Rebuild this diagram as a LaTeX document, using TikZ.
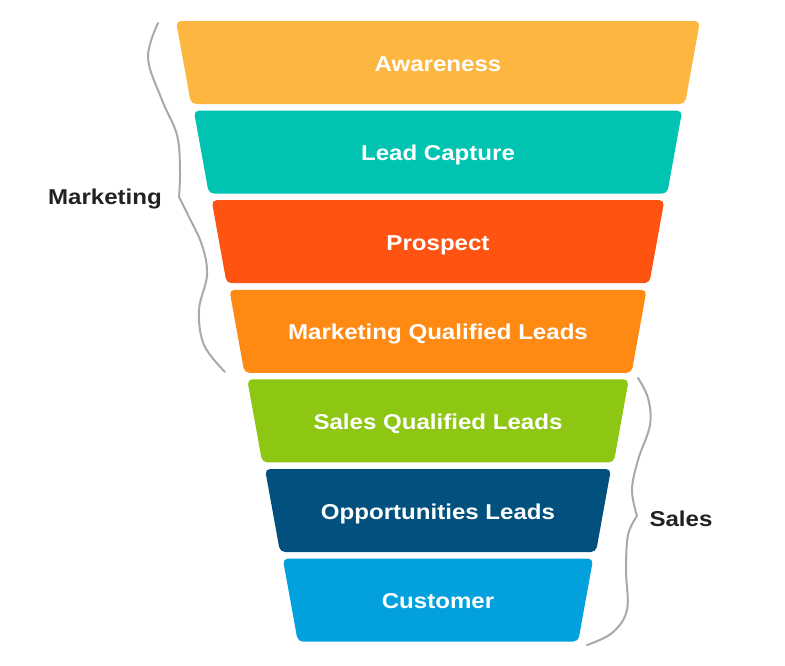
\documentclass[tikz,border=0pt]{standalone}
\usepackage{fontspec}
\setmainfont{Liberation Sans}[FakeStretch=1.12]
\definecolor{cAware}{HTML}{FDB640}
\definecolor{cLead}{HTML}{00C4B1}
\definecolor{cProsp}{HTML}{FF5311}
\definecolor{cMql}{HTML}{FF8A13}
\definecolor{cSql}{HTML}{8DC713}
\definecolor{cOpp}{HTML}{02507E}
\definecolor{cCust}{HTML}{02A0DC}
\definecolor{bracegray}{HTML}{A9A9A9}
\definecolor{labelgray}{HTML}{222222}
\begin{document}
\begin{tikzpicture}[x=1pt,y=-1pt,
  band/.style={rounded corners=5pt},
  bandtext/.style={text=white, anchor=base, inner sep=0pt, font=\bfseries\fontsize{21.5}{24}\selectfont},
  sidelabel/.style={text=labelgray, anchor=base, inner sep=0pt, font=\bfseries\fontsize{21.5}{24}\selectfont},
  bracestyle/.style={draw=bracegray, line width=2pt, line cap=round, line join=round}]
\useasboundingbox (0,0) rectangle (785,665);
\foreach \i/\col/\txt/\nm in {0/cAware/Awareness/aware, 1/cLead/Lead Capture/lead, 2/cProsp/Prospect/prosp, 3/cMql/Marketing Qualified Leads/mql, 4/cSql/Sales Qualified Leads/sql, 5/cOpp/Opportunities Leads/opp, 6/cCust/Customer/cust}{
  \pgfmathsetmacro\yt{21+89.6*\i}
  \pgfmathsetmacro\yb{\yt+83}
  \pgfmathsetmacro\xl{176+17.8*\i}
  \pgfmathsetmacro\xr{700-17.8*\i}
  \fill[band, fill=\col] (\xl,\yt) -- (\xr,\yt) -- (\xr-15,\yb) -- (\xl+15,\yb) -- cycle;
  \node[bandtext] (\nm) at (438,\yt+50) {\txt};
}
% Marketing brace
\draw[bracestyle] plot[smooth, tension=0.6] coordinates {(158,23) (148,58) (162,100) (177,135) (180,170) (179,197)};
\draw[bracestyle] plot[smooth, tension=0.6] coordinates {(179,197) (188,215) (202,245) (207,275) (199,310) (204,345) (225,372)};
% Sales brace
\draw[bracestyle] plot[smooth, tension=0.6] coordinates {(638,378) (648,398) (650,425) (638,460) (632,490) (637,516)};
\draw[bracestyle] plot[smooth, tension=0.6] coordinates {(637,516) (628,535) (626,570) (627,610) (612,633) (587,645)};
\node[sidelabel] (mkt) at (105,204) {Marketing};
\node[sidelabel] (sales) at (681,526) {Sales};
\end{tikzpicture}
\end{document}
